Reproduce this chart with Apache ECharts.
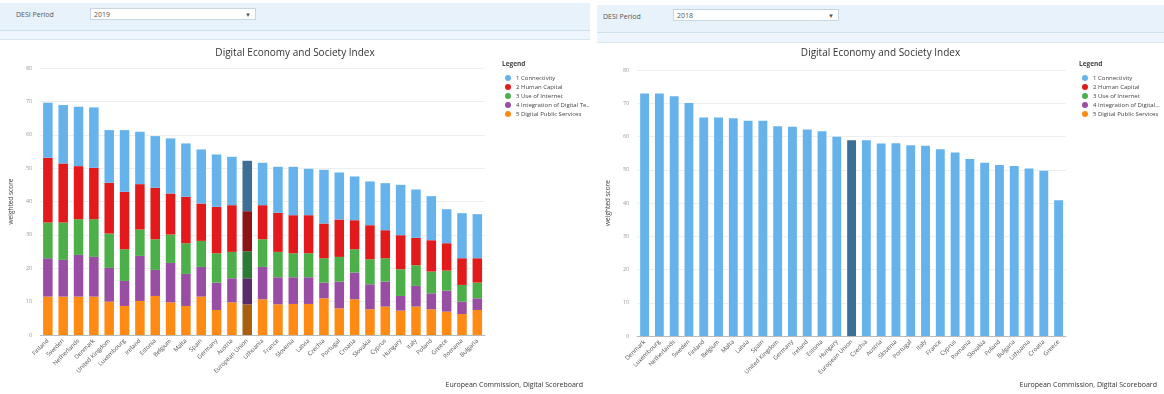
<!DOCTYPE html>
<html>
<head>
<meta charset="utf-8">
<script src="https://cdn.jsdelivr.net/npm/echarts@6/dist/echarts.min.js"></script>
<style>
  body { margin: 0; background: #fff; font-family: "Open Sans", sans-serif; }
  .panel { position: absolute; top: 0; height: 394px; }
  .band { position: absolute; left: 0; right: 0; background: #e8f2fb; }
  .strip { position: absolute; left: 0; right: 0; background: #eef5fc; border-top: 1px solid #cfe0ef; border-bottom: 1px solid #d7e5f1; }
  .lbl { position: absolute; font-size: 7px; color: #555; }
  .sel { position: absolute; height: 12px; background: #fff; border: 1px solid #c8d6e2; font-size: 7px; color: #555; line-height: 12px; padding-left: 3px; box-sizing: border-box; }
  .sel span { position: absolute; right: 4px; top: 0; font-size: 6px; }
  .chart { position: absolute; left: 0; top: 0; width: 100%; height: 394px; }
</style>
</head>
<body>
<div class="panel" id="leftPanel" style="left:0;width:590px;">
  <div class="chart" id="leftChart"></div>
  <div class="band" style="top:3px;height:27px;"></div>
  <div class="strip" style="top:30px;height:8px;"></div>
  <div class="lbl" style="left:16px;top:10px;">DESI Period</div>
  <div class="sel" style="left:90px;top:8px;width:166px;">2019<span>▼</span></div>
</div>
<div class="panel" id="rightPanel" style="left:597px;width:567px;">
  <div class="chart" id="rightChart"></div>
  <div class="band" style="top:5px;height:27px;"></div>
  <div class="strip" style="top:32px;height:9px;"></div>
  <div class="lbl" style="left:6px;top:12px;">DESI Period</div>
  <div class="sel" style="left:76px;top:9px;width:166px;">2018<span>▼</span></div>
</div>
<script>
// ---- 2019 (left) ----
const countries2019 = ['Finland','Sweden','Netherlands','Denmark','United Kingdom','Luxembourg','Ireland','Estonia','Belgium','Malta','Spain','Germany','Austria','European Union','Lithuania','France','Slovenia','Latvia','Czechia','Portugal','Croatia','Slovakia','Cyprus','Hungary','Italy','Poland','Greece','Romania','Bulgaria'];
const connectivity2019 = [16.5,17.5,17.8,18.1,15.8,18.5,15.7,15.5,16.5,16.0,16.2,15.7,14.5,15.1,12.7,13.8,14.5,13.9,16.1,14.1,13.1,13.1,14.1,15.1,14.5,13.2,10.2,13.5,13.2];
const humanCapital2019 = [19.4,17.7,15.9,15.4,15.2,17.2,13.6,15.4,12.3,13.9,11.2,13.9,14.0,12.0,10.2,11.7,11.4,11.4,10.4,11.2,8.7,10.2,8.4,10.2,8.2,9.4,8.2,8.0,7.3];
const useOfInternet2019 = [10.7,11.2,10.7,11.3,10.3,9.5,7.9,9.2,8.5,9.2,7.8,8.8,7.9,8.1,8.3,7.6,7.2,7.2,7.3,7.4,7.0,7.5,7.0,8.0,6.2,6.5,6.0,5.0,4.7];
const integration2019 = [11.5,11.0,12.5,11.9,10.1,7.5,13.5,7.8,11.8,9.6,8.9,8.2,7.2,7.8,9.7,8.1,8.0,8.0,4.7,8.0,8.0,7.5,7.5,4.4,6.2,4.8,6.3,3.7,3.5];
const publicServices2019 = [11.5,11.5,11.5,11.5,10.0,8.7,10.2,11.7,9.8,8.7,11.5,7.5,9.8,9.2,10.7,9.2,9.3,9.3,11.0,8.0,10.7,7.7,8.5,7.3,8.5,7.7,7.0,6.3,7.5];

// ---- 2018 (right) ----
const countries2018 = ['Denmark','Luxembourg','Netherlands','Sweden','Finland','Belgium','Malta','Latvia','Spain','United Kingdom','Germany','Ireland','Estonia','Hungary','European Union','Czechia','Austria','Slovenia','Portugal','Italy','France','Cyprus','Romania','Slovakia','Poland','Bulgaria','Lithuania','Croatia','Greece'];
const connectivity2018 = [72.9,72.9,72.1,70.1,65.7,65.7,65.5,64.7,64.7,63.1,62.9,62.1,61.6,59.9,58.9,58.9,57.9,58.0,57.4,57.2,56.2,55.2,53.2,52.1,51.4,51.1,50.4,49.7,40.8];

const seriesNames = ['1 Connectivity','2 Human Capital','3 Use of Internet','4 Integration of Digital Technology','5 Digital Public Services'];
const colors = ['#66b3ec','#e31a1c','#4daf4a','#984ea3','#ff8a14'];
const euColors = ['#3d6e96','#8c1414','#2c7a34','#5b2a6b','#a8600f'];
const EU = 'European Union';

function mark(values, cats, i) {
  return values.map((v, k) => cats[k] === EU ? {value: v, itemStyle: {color: euColors[i]}} : v);
}

function baseOption(cats, gridPos, legendLeft, legendWidth) {
  return {
    animation: false,
    textStyle: {fontFamily: 'Open Sans'},
    color: colors,
    title: [
      {text: 'Digital Economy and Society Index', left: 'center', top: 43,
       textStyle: {fontSize: 10, fontWeight: 'normal', color: '#333'}},
      {text: 'Legend', left: legendLeft - 3, top: 56,
       textStyle: {fontSize: 6.5, fontWeight: 'bold', color: '#444'}},
      {text: 'European Commission, Digital Scoreboard', right: 2, bottom: 1,
       textStyle: {fontSize: 7, fontWeight: 'normal', color: '#333'}}
    ],
    legend: {
      orient: 'vertical', left: legendLeft, top: 70,
      icon: 'circle', itemWidth: 6, itemHeight: 6, itemGap: 3,
      textStyle: {fontSize: 6, color: '#444', width: legendWidth, overflow: 'truncate'},
      data: seriesNames
    },
    grid: gridPos,
    xAxis: {
      type: 'category', data: cats,
      axisLine: {lineStyle: {color: '#bbb'}},
      axisTick: {lineStyle: {color: '#999'}},
      axisLabel: {rotate: 45, interval: 0, fontSize: 6, color: '#555', margin: 5}
    },
    yAxis: {
      type: 'value', min: 0, max: 80, interval: 10,
      name: 'weighted score', nameLocation: 'middle', nameGap: 21,
      nameTextStyle: {fontSize: 6.5, color: '#444'},
      axisLine: {show: false}, axisTick: {show: false},
      axisLabel: {fontSize: 5.5, color: '#999'},
      splitLine: {lineStyle: {color: '#eee'}}
    }
  };
}

// left chart: stacked dimensions
const leftChart = echarts.init(document.getElementById('leftChart'));
const leftOpt = baseOption(countries2019, {left: 40, right: 105, top: 68, bottom: 59}, 500, 78);
const leftData = [connectivity2019, humanCapital2019, useOfInternet2019, integration2019, publicServices2019];
// stacking order bottom->top: public services, integration, internet, human capital, connectivity
leftOpt.series = [4, 3, 2, 1, 0].map(i => ({
  name: seriesNames[i], type: 'bar', stack: 'Total', barWidth: '62%',
  itemStyle: {color: colors[i]},
  data: mark(leftData[i], countries2019, i)
}));
leftChart.setOption(leftOpt);

// right chart: connectivity only
const rightChart = echarts.init(document.getElementById('rightChart'));
const rightOpt = baseOption(countries2018, {left: 31, right: 98, top: 70, bottom: 58}, 480, 70);
rightOpt.series = seriesNames.map((n, i) => ({
  name: n, type: 'bar', stack: 'Total', barWidth: '60%',
  itemStyle: {color: colors[i]},
  data: i === 0 ? mark(connectivity2018, countries2018, 0) : []
}));
rightChart.setOption(rightOpt);
</script>
</body>
</html>
